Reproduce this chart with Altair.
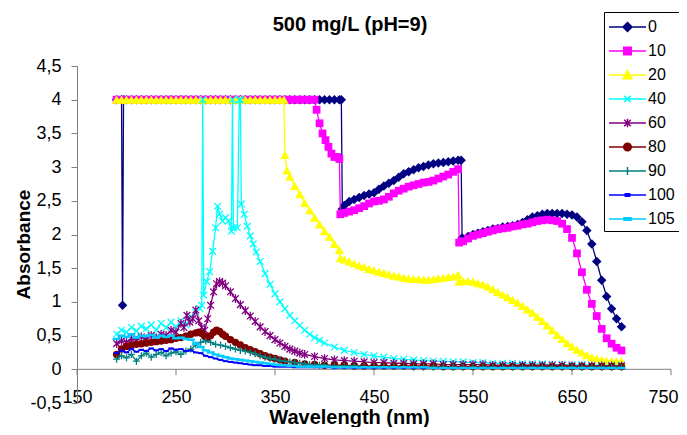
import altair as alt
import pandas as pd

# ---------------- data ----------------
series_names = ["0", "10", "20", "40", "60", "80", "90", "100", "105"]
series_colors = ["#000080", "#FF00FF", "#FFFF00", "#00FFFF", "#800080",
                 "#800000", "#008080", "#0000FF", "#00CCFF"]

x_ticks = [150, 250, 350, 450, 550, 650, 750]
y_ticks = [-0.5, 0, 0.5, 1, 1.5, 2, 2.5, 3, 3.5, 4, 4.5]

# series "0"
wl_0 = ([190, 195, 196, 197] + list(range(200, 416, 5)) + [417, 418]
        + list(range(420, 536, 5)) + [538, 539] + list(range(545, 701, 5)))
abs_0 = ([4, 4, 0.95, 4]
         + [4, 4, 4, 4, 4, 4, 4, 4, 4, 4, 4, 4, 4, 4, 4, 4, 4, 4, 4, 4, 4, 4,
            4, 4, 4, 4, 4, 4, 4, 4, 4, 4, 4, 4, 4, 4, 4, 4, 4, 4, 4, 4, 4, 4]
         + [4, 2.38]
         + [2.43, 2.49, 2.52, 2.55, 2.58, 2.6, 2.62, 2.67, 2.72, 2.76, 2.8, 2.85,
            2.9, 2.93, 2.96, 2.99, 3.01, 3.03, 3.05, 3.06, 3.07, 3.08, 3.09, 3.1]
         + [3.1, 1.95]
         + [1.97, 2.0, 2.02, 2.04, 2.06, 2.08, 2.09, 2.11, 2.12, 2.13, 2.15, 2.18,
            2.22, 2.26, 2.28, 2.3, 2.31, 2.31, 2.31, 2.31, 2.3, 2.29, 2.26, 2.19,
            2.06, 1.86, 1.6, 1.32, 1.08, 0.9, 0.75, 0.63])

# series "10"
wl_10 = (list(range(190, 386, 5)) + [390, 392, 395, 398, 401, 404, 407, 410, 413, 415, 416]
         + list(range(420, 536, 5)) + [536] + list(range(540, 701, 5)))
abs_10 = ([4, 4, 4, 4, 4, 4, 4, 4, 4, 4, 4, 4, 4, 4, 4, 4, 4, 4, 4, 4,
           4, 4, 4, 4, 4, 4, 4, 4, 4, 4, 4, 4, 4, 4, 4, 4, 4, 4, 4, 4]
          + [4, 3.85, 3.65, 3.5, 3.4, 3.3, 3.2, 3.15, 3.15, 3.12, 2.3]
          + [2.32, 2.34, 2.36, 2.39, 2.42, 2.46, 2.49, 2.5, 2.52, 2.56, 2.61, 2.65,
             2.68, 2.71, 2.73, 2.75, 2.77, 2.78, 2.8, 2.83, 2.86, 2.89, 2.93, 2.97]
          + [1.88]
          + [1.9, 1.94, 1.98, 2.0, 2.02, 2.04, 2.06, 2.08, 2.09, 2.1, 2.12, 2.13,
             2.15, 2.16, 2.18, 2.2, 2.21, 2.22, 2.21, 2.2, 2.16, 2.08, 1.95, 1.72,
             1.44, 1.18, 0.97, 0.79, 0.6, 0.46, 0.38, 0.32, 0.28])

# series "20"
wl_20 = (list(range(190, 356, 5)) + [359, 360, 362] + list(range(365, 416, 5)) + [416]
         + list(range(420, 536, 5)) + [536] + list(range(540, 701, 5)))
abs_20 = ([4, 4, 4, 4, 4, 4, 4, 4, 4, 4, 4, 4, 4, 4, 4, 4, 4,
           4, 4, 4, 4, 4, 4, 4, 4, 4, 4, 4, 4, 4, 4, 4, 4, 4]
          + [4, 3.18, 2.95]
          + [2.86, 2.72, 2.6, 2.47, 2.36, 2.25, 2.15, 2.05, 1.97, 1.86, 1.77]
          + [1.65]
          + [1.63, 1.6, 1.57, 1.54, 1.52, 1.49, 1.47, 1.45, 1.43, 1.41, 1.39, 1.38,
             1.36, 1.35, 1.34, 1.34, 1.33, 1.33, 1.34, 1.35, 1.36, 1.37, 1.38, 1.4]
          + [1.3]
          + [1.31, 1.31, 1.3, 1.28, 1.26, 1.23, 1.19, 1.15, 1.11, 1.07, 1.03, 0.99,
             0.94, 0.89, 0.84, 0.78, 0.72, 0.65, 0.58, 0.51, 0.45, 0.39, 0.34, 0.29,
             0.25, 0.21, 0.18, 0.16, 0.14, 0.13, 0.12, 0.12, 0.12])

# series "40"
wl_40 = (list(range(190, 271, 5))
         + [274, 276, 277, 278, 281, 284, 287, 290, 292, 294, 297, 300, 303, 306,
            307, 308, 312, 314, 315, 316, 319, 322, 325, 328, 331, 335]
         + list(range(340, 396, 5)) + list(range(400, 701, 10)))
abs_40 = ([0.52, 0.58, 0.55, 0.62, 0.57, 0.64, 0.6, 0.66, 0.58, 0.68, 0.62, 0.7,
           0.63, 0.72, 0.66, 0.78, 0.85]
          + [0.9, 0.95, 4, 1.1, 1.3, 1.45, 1.75, 2.1, 2.42, 2.3, 2.2, 2.25, 2.2, 2.05,
             4, 2.1, 2.1, 4, 4, 2.45, 2.3, 2.12, 1.98, 1.86, 1.74, 1.6]
          + [1.42, 1.26, 1.12, 1.0, 0.9, 0.8, 0.72, 0.65, 0.58, 0.52, 0.47, 0.43]
          + [0.39, 0.33, 0.28, 0.25, 0.22, 0.2, 0.18, 0.16, 0.15, 0.14, 0.13, 0.12,
             0.12, 0.11, 0.11, 0.1, 0.1, 0.09, 0.09, 0.09, 0.08, 0.08, 0.08, 0.07,
             0.07, 0.07, 0.07, 0.06, 0.06, 0.06, 0.06])

# series "60"
wl_60 = (list(range(190, 256, 5)) + list(range(258, 298, 3))
         + list(range(300, 381, 5)) + list(range(390, 701, 10)))
abs_60 = ([0.38, 0.42, 0.4, 0.45, 0.43, 0.48, 0.45, 0.5, 0.47, 0.52, 0.5, 0.58, 0.55, 0.68]
          + [0.62, 0.8, 0.7, 0.75, 0.88, 0.72, 0.62, 0.58, 0.75, 0.95, 1.15, 1.27, 1.3, 1.28]
          + [1.24, 1.15, 1.05, 0.96, 0.87, 0.79, 0.71, 0.63, 0.56, 0.5, 0.44, 0.39,
             0.34, 0.3, 0.27, 0.24, 0.22]
          + [0.19, 0.16, 0.14, 0.13, 0.12, 0.11, 0.1, 0.1, 0.09, 0.09, 0.08, 0.08,
             0.08, 0.07, 0.07, 0.07, 0.07, 0.07, 0.06, 0.06, 0.06, 0.06, 0.06, 0.06,
             0.06, 0.06, 0.05, 0.05, 0.05, 0.05, 0.05, 0.05])

# series "80"
wl_80 = (list(range(190, 271, 5)) + list(range(273, 298, 3))
         + list(range(300, 361, 5)) + [370, 380, 390] + list(range(400, 701, 10)))
abs_80 = ([0.22, 0.3, 0.34, 0.36, 0.37, 0.38, 0.39, 0.4, 0.41, 0.42, 0.43, 0.44,
           0.46, 0.47, 0.49, 0.52, 0.54]
          + [0.55, 0.53, 0.49, 0.47, 0.5, 0.55, 0.58, 0.56, 0.52]
          + [0.49, 0.44, 0.4, 0.36, 0.32, 0.29, 0.26, 0.23, 0.2, 0.18, 0.16, 0.14, 0.12]
          + [0.1, 0.08, 0.07]
          + [0.06, 0.06, 0.06, 0.05, 0.05, 0.05, 0.05, 0.05, 0.05, 0.05, 0.05, 0.05,
             0.04, 0.04, 0.04, 0.04, 0.04, 0.04, 0.04, 0.04, 0.04, 0.04, 0.04, 0.04,
             0.04, 0.04, 0.04, 0.04, 0.04, 0.04, 0.04])

# series "90"
wl_90 = list(range(190, 401, 5)) + list(range(410, 701, 10))
abs_90 = ([0.15, 0.2, 0.17, 0.22, 0.12, 0.2, 0.24, 0.18, 0.22, 0.25,
           0.2, 0.24, 0.26, 0.22, 0.27, 0.3, 0.36, 0.4, 0.42, 0.4,
           0.37, 0.36, 0.34, 0.32, 0.3, 0.28, 0.27, 0.25, 0.23, 0.2,
           0.18, 0.16, 0.15, 0.13, 0.12, 0.11, 0.1, 0.09, 0.08, 0.07,
           0.07, 0.06, 0.06]
          + [0.05, 0.05, 0.05, 0.04, 0.04, 0.04, 0.04, 0.04, 0.03, 0.03,
             0.03, 0.03, 0.03, 0.03, 0.03, 0.03, 0.03, 0.03, 0.03, 0.03,
             0.03, 0.03, 0.03, 0.03, 0.03, 0.03, 0.03, 0.03, 0.03, 0.03])

# series "100"
wl_100 = list(range(190, 401, 5)) + list(range(410, 701, 10))
abs_100 = ([0.24, 0.28, 0.25, 0.3, 0.26, 0.29, 0.27, 0.31, 0.28, 0.3,
            0.27, 0.31, 0.29, 0.3, 0.27, 0.28, 0.25, 0.24, 0.2, 0.18,
            0.16, 0.14, 0.12, 0.11, 0.1, 0.09, 0.08, 0.07, 0.06, 0.06,
            0.05, 0.05, 0.04, 0.04, 0.04, 0.04, 0.03, 0.03, 0.03, 0.03,
            0.03, 0.03, 0.03]
           + [0.02, 0.02, 0.02, 0.02, 0.02, 0.02, 0.02, 0.02, 0.02, 0.02,
              0.02, 0.02, 0.02, 0.02, 0.02, 0.02, 0.02, 0.02, 0.02, 0.02,
              0.02, 0.02, 0.02, 0.02, 0.02, 0.02, 0.02, 0.02, 0.02, 0.02])

# series "105"
wl_105 = list(range(190, 401, 5)) + list(range(410, 701, 10))
abs_105 = ([0.45, 0.5, 0.48, 0.52, 0.47, 0.5, 0.49, 0.51, 0.47, 0.5,
            0.48, 0.5, 0.46, 0.47, 0.45, 0.44, 0.38, 0.33, 0.28, 0.25,
            0.22, 0.2, 0.18, 0.16, 0.15, 0.14, 0.13, 0.12, 0.11, 0.1,
            0.09, 0.08, 0.07, 0.06, 0.06, 0.05, 0.05, 0.04, 0.04, 0.04,
            0.04, 0.04, 0.04]
           + [0.03, 0.03, 0.03, 0.03, 0.03, 0.03, 0.03, 0.03, 0.03, 0.03,
              0.02, 0.02, 0.02, 0.02, 0.02, 0.02, 0.02, 0.02, 0.02, 0.02,
              0.02, 0.02, 0.02, 0.02, 0.02, 0.02, 0.02, 0.02, 0.02, 0.02])

series_wl = [wl_0, wl_10, wl_20, wl_40, wl_60, wl_80, wl_90, wl_100, wl_105]
series_abs = [abs_0, abs_10, abs_20, abs_40, abs_60, abs_80, abs_90, abs_100, abs_105]

# ---------------- styles ----------------
FONT = "Liberation Sans"
AXIS_GRAY = "#808080"

X_PATH = "M-1,-1L1,1M-1,1L1,-1"
STAR_PATH = "M-1,-1L1,1M-1,1L1,-1M0,-1.3V1.3"
PLUS_PATH = "M-1,0H1M0,-1V1"
DASH_PATH = "M-1,-0.35H1V0.35H-1Z"
LDASH_PATH = "M-1,-0.3H1V0.3H-1Z"

marker_styles = [
    dict(shape="diamond", filled=True, size=90),
    dict(shape="square", filled=True, size=60),
    dict(shape="triangle-up", filled=True, size=90),
    dict(shape=X_PATH, filled=False, size=45, strokeWidth=1.3),
    dict(shape=STAR_PATH, filled=False, size=45, strokeWidth=1.3),
    dict(shape="circle", filled=True, size=55),
    dict(shape=PLUS_PATH, filled=False, size=49, strokeWidth=1.3),
    dict(shape=DASH_PATH, filled=True, size=30),
    dict(shape=LDASH_PATH, filled=True, size=64),
]

# legend symbols: a line segment with the marker on it (1 unit = 10 px)
legend_paths = [
    "M-1,0H2.7M0.85,-0.45L1.3,0L0.85,0.45L0.4,0Z",
    "M-1,0H2.7M0.47,-0.38H1.23V0.38H0.47Z",
    "M-1,0H2.7M0.85,-0.45L1.3,0.38L0.4,0.38Z",
    "M-1,0H2.7M0.52,-0.33L1.18,0.33M0.52,0.33L1.18,-0.33",
    "M-1,0H2.7M0.52,-0.33L1.18,0.33M0.52,0.33L1.18,-0.33M0.85,-0.42V0.42",
    "M-1,0H2.7M0.47,0A0.38,0.38,0,1,1,1.23,0A0.38,0.38,0,1,1,0.47,0Z",
    "M-1,0H2.7M0.85,-0.4V0.4",
    "M-1,0H2.7M0.63,-0.12H1.07V0.12H0.63Z",
    "M-1,0H2.7M0.5,-0.12H1.2V0.12H0.5Z",
]

x_scale = alt.Scale(domain=[150, 750], nice=False, zero=False)
y_scale = alt.Scale(domain=[-0.5, 4.5], nice=False, zero=False)

x_axis = alt.Axis(values=x_ticks, grid=False, domain=False, ticks=False, tickSize=0,
                  labelFontSize=18, labelColor="black", labelPadding=0,
                  labelBaseline="middle", offset=-6, labelFlush=False,
                  labelOverlap=False,
                  labelOffset={"condition": {"test": "datum.value === 750", "value": -8}, "value": 0},
                  title="Wavelength (nm)", titleFontSize=20,
                  titleFontWeight="bold", titleColor="black", titleX=272, titleY=20,
                  titleBaseline="middle")
y_axis = alt.Axis(values=y_ticks, labelExpr="replace(toString(datum.value), '.', ',')",
                  grid=False, tickSize=6, tickColor=AXIS_GRAY, domainColor=AXIS_GRAY,
                  labelPadding=10, labelFontSize=18, labelColor="black",
                  title="Absorbance", titleFontSize=19, titleFontWeight="bold",
                  titleColor="black", titleX=-54, titleY=178, titleAngle=270,
                  titleBaseline="middle")

x_enc = alt.X("wavelength:Q", scale=x_scale, axis=x_axis)
y_enc = alt.Y("absorbance:Q", scale=y_scale, axis=y_axis)

layers = []

zero_df = pd.DataFrame({"absorbance": [0]})
layers.append(alt.Chart(zero_df).mark_rule(color=AXIS_GRAY, strokeWidth=1).encode(y=y_enc))

tick_df = pd.DataFrame({"wavelength": x_ticks, "absorbance": [0] * len(x_ticks)})
layers.append(alt.Chart(tick_df).mark_tick(orient="vertical", size=6, thickness=1,
                                           yOffset=3, color=AXIS_GRAY, opacity=1)
              .encode(x=x_enc, y=y_enc))

for name, color, wl, ab, st in zip(series_names, series_colors, series_wl, series_abs, marker_styles):
    df = pd.DataFrame({"wavelength": wl, "absorbance": ab, "series": name})
    layers.append(alt.Chart(df).mark_line(color=color, strokeWidth=1.3)
                  .encode(x=x_enc, y=y_enc))
    layers.append(alt.Chart(df).mark_point(color=color, opacity=1, **st)
                  .encode(x=x_enc, y=y_enc))

legend = alt.Legend(title=None, orient="none", legendX=527, legendY=-54,
                    direction="vertical", strokeColor="black", fillColor="white",
                    padding=4, labelFontSize=16, labelFont=FONT, labelColor="black",
                    labelOffset=18, rowPadding=5, symbolSize=400,
                    symbolStrokeWidth=1.5, symbolOpacity=1)

leg_df = pd.DataFrame({"wavelength": [150.0] * len(series_names),
                       "absorbance": [0.0] * len(series_names),
                       "series": series_names})
layers.append(
    alt.Chart(leg_df).transform_filter("false")
    .mark_point(filled=True, opacity=1, size=400, strokeWidth=1.5)
    .encode(
        x=x_enc, y=y_enc,
        fill=alt.Fill("series:N", scale=alt.Scale(domain=series_names, range=series_colors), legend=legend),
        stroke=alt.Stroke("series:N", scale=alt.Scale(domain=series_names, range=series_colors), legend=legend),
        shape=alt.Shape("series:N", scale=alt.Scale(domain=series_names, range=legend_paths), legend=legend),
    )
)

chart = (
    alt.layer(*layers)
    .properties(
        width=594, height=337,
        title=alt.TitleParams("500 mg/L (pH=9)", fontSize=20, fontWeight="bold", font=FONT,
                              color="black", anchor="middle", dx=-24, offset=-23),
        padding={"left": 69, "top": 58, "right": 8, "bottom": 24},
        autosize=alt.AutoSizeParams(type="none"),
    )
    .configure_view(stroke=None)
    .configure_axis(labelFont=FONT, titleFont=FONT)
)

chart.save("out.html", embed_options={"renderer": "svg", "actions": False})
